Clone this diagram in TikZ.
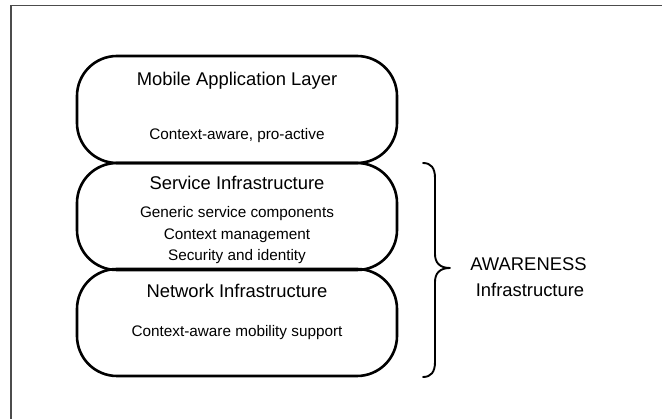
\documentclass[tikz,border=0pt]{standalone}
\usepackage{fontspec}
\setmainfont{Liberation Sans}
\begin{document}
\begin{tikzpicture}[x=1pt,y=-1pt,
  layerbox/.style={draw=black, line width=2.6pt, rounded corners=40pt,
    minimum width=320pt, minimum height=107pt, inner sep=0pt},
  headtext/.style={anchor=base, inner sep=0pt, font=\fontsize{18.4}{22}\selectfont},
  bodytext/.style={anchor=base, inner sep=0pt, font=\fontsize{15.3}{18}\selectfont},
  bracestroke/.style={line width=1.9pt, line join=round, line cap=round}]
\useasboundingbox (0,0) rectangle (662,419);
\fill[white] (0,0) rectangle (662,419);
% outer frame (top and left edges)
\draw[line width=1.3pt, black!70] (11,419) -- (11,5.5) -- (662,5.5);

% stacked layers
\node[layerbox] (app) at (237,109.5) {};
\node[layerbox] (svc) at (237,216.5) {};
\node[layerbox] (net) at (237,322.5) {};

% layer texts
\node[headtext] (apptitle) at (237,85.8) {Mobile Application Layer};
\node[bodytext] (appsub) at (237,140) {Context-aware, pro-active};

\node[headtext] (svctitle) at (237,189.9) {Service Infrastructure};
\node[bodytext] (svcsubA) at (237,217.7) {Generic service components};
\node[bodytext] (svcsubB) at (237,239.3) {Context management};
\node[bodytext] (svcsubC) at (237,260.3) {Security and identity};

\node[headtext] (nettitle) at (237,297.2) {Network Infrastructure};
\node[bodytext] (netsub) at (237,337) {Context-aware mobility support};

% curly brace grouping the two lower layers
\draw[bracestroke] (423,163) .. controls (431,163) and (435,168) .. (435,178)
  -- (435,254) .. controls (435,263) and (440,268) .. (450,268)
  .. controls (440,268) and (435,273) .. (435,282)
  -- (435,362) .. controls (435,372) and (431,377) .. (423,377);

\node[headtext] (awtitle) at (528.5,270.5) {AWARENESS};
\node[headtext] (awsub) at (530,297) {Infrastructure};
\end{tikzpicture}
\end{document}
